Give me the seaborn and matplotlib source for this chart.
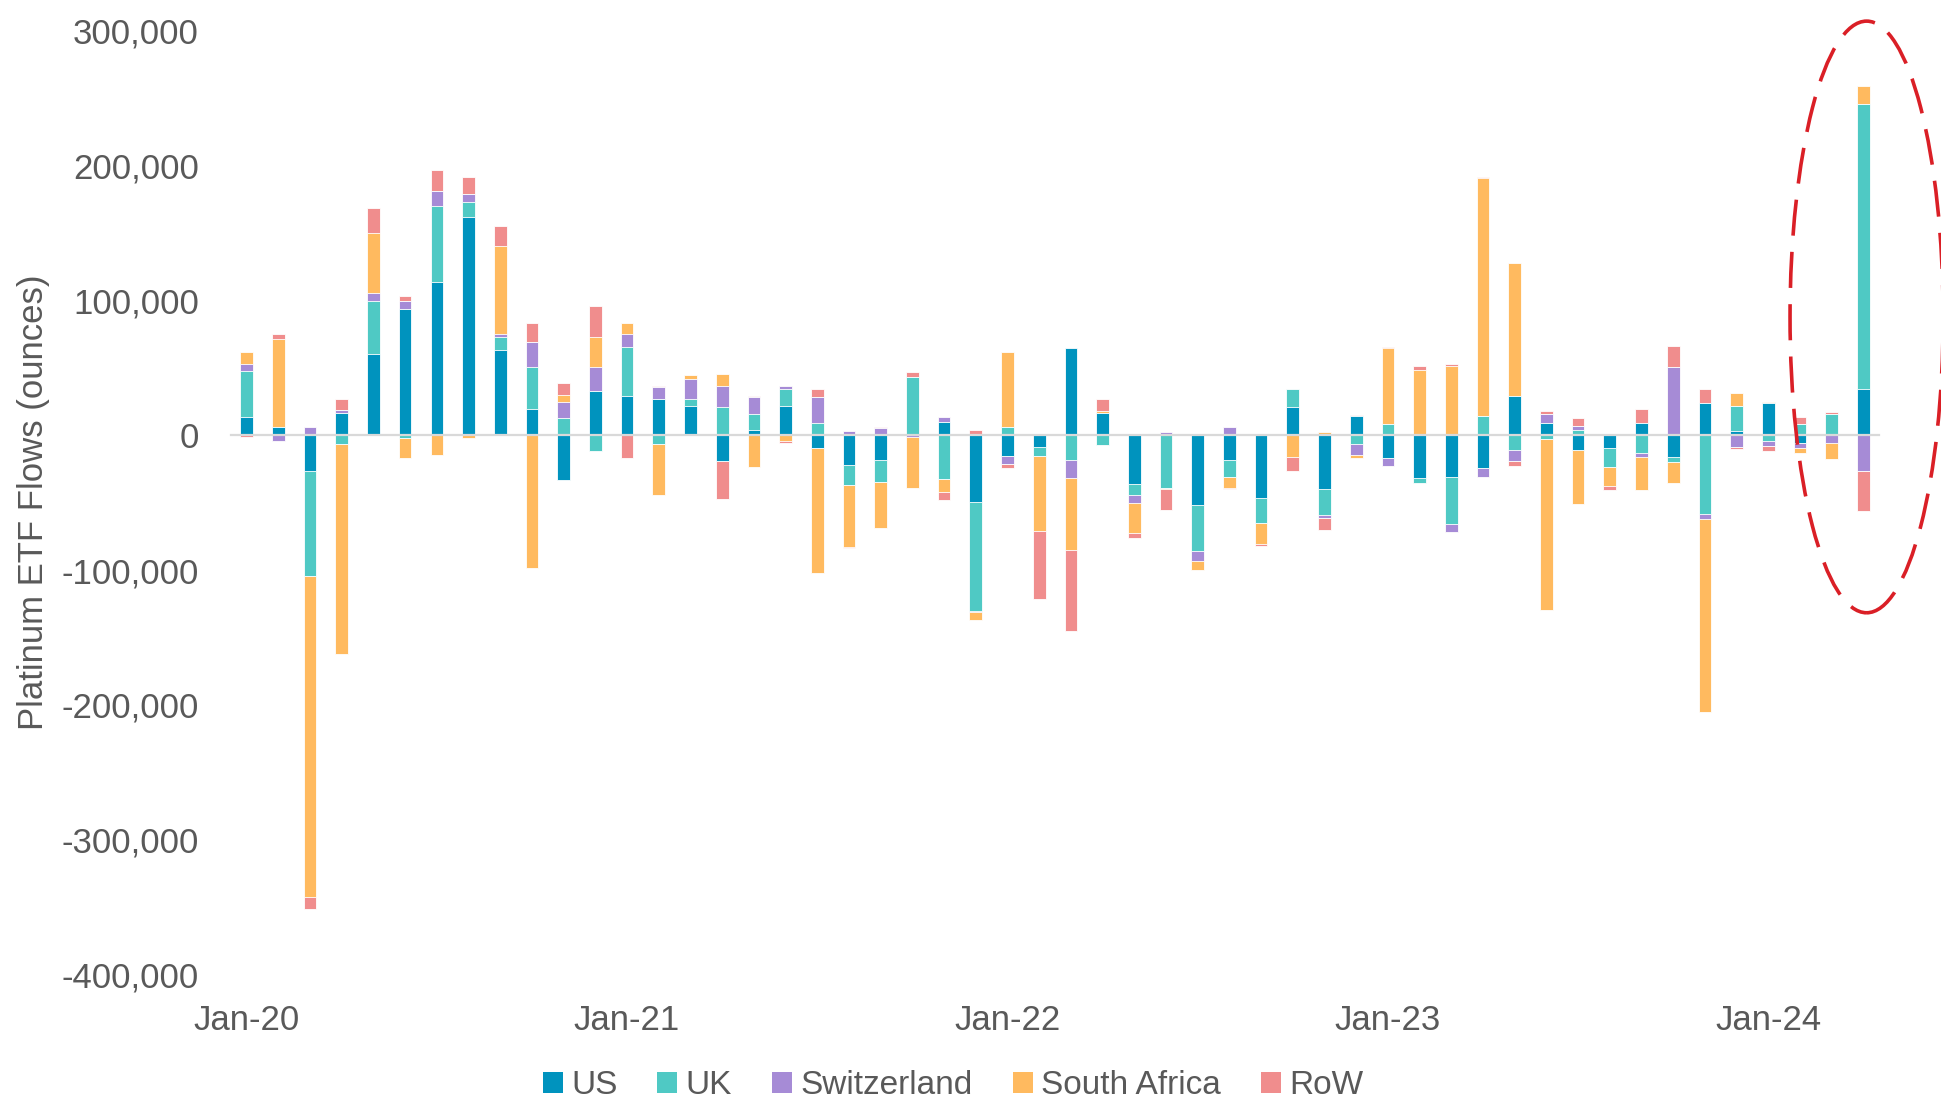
import numpy as np
import pandas as pd
import matplotlib.pyplot as plt
import seaborn as sns
from matplotlib.patches import Patch, Ellipse

sns.set_style("white")
plt.rcParams['font.family'] = ['Liberation Sans', 'DejaVu Sans']

# monthly platinum ETF flows, thousand ounces (Jan-20 .. Apr-24)
months = list(pd.date_range('2020-01-01', periods=52, freq='MS').strftime('%b-%y'))

us = [13.5, 6, -26.2, 16.7, 60.4, 93.8, 113.7, 161.6, 63.6, 19.6, -33.3, 33.1,
      28.9, 27, 21.7, -19, 4, 21.7, -9.6, -22.3, -18, 0, 10, -49.5,
      -15.1, -8.7, 64.7, 16.7, -35.9, 0, -51.4, -18, -46.3, 20.9, -40.1, 14.3,
      -17.1, -31.4, -30.7, -24.2, 28.9, 9.3, -10.6, -9.6, 9, -16.1, 24.1, 3.2,
      24.1, -5.4, 0, 34.4]
uk = [34, 0, -78.4, -6.5, 39.5, -1.8, 56.2, 11.4, 9.3, 31.3, 12.5, -11.4,
      36.6, -6.7, 5.3, 20.9, 11.7, 12.7, 9.3, -14.6, -16.6, 42.9, -32.6, -80.6,
      6.1, -6.4, -18.3, -7.4, -8.2, -39.1, -34.4, -12.6, -18.8, 13.2, -18.8, -6.7,
      8.2, -4, -35.1, 14.3, -10.6, -2.5, 4, -13.6, -12.9, -4, -58.6, 18.5,
      -4.5, 8.2, 15.6, 211.4]
switzerland = [5.6, -4, 6, 2, 5.3, 6.1, 11.4, 6.1, 2.1, 18, 12.2, 17.8,
               9.5, 8.5, 14.6, 15.4, 13, 1.9, 18.8, 2.9, 5.3, -1.5, 3.4, -1,
               -6.2, 0, -13.4, 0, -6.2, 2.6, -7.4, 6.1, 0, 0, -2.2, -8.2,
               -5.9, 0, -6.2, -6.9, -8.7, 6.4, 3.2, 0, -3.2, 50.9, -3.2, -8.9,
               -3.2, -4.2, -5.4, -26.5]
south_africa = [8.5, 65.7, -237.9, -156, 45, -15.3, -14.7, -2, 65.4, -98.5, 5.3, 22,
                8.2, -37.3, 2.9, 9.3, -23.3, -4.5, -92.5, -45.8, -34.4, -37.3, -9.4, -5.7,
                55.9, -56.1, -53.2, 1.6, -22.3, -1, -6.4, -8.4, -15.3, -16.1, 2.6, -2,
                56.4, 48.8, 51.7, 176.7, 99.1, -127.1, -40.6, -14.6, -24.5, -15.3, -143.7, 9.5,
                0.8, -3.7, -12.4, 13.5]
row = [-1, 3.2, -8.9, 8.2, 18.8, 3.2, 15.6, 12.5, 14.8, 14.3, 8.7, 22.8,
       -17.1, 1, 0, -28, 0.5, -1, 6.1, -1.2, 0.8, 3.7, -5.9, 3.7,
       -3, -50.2, -60.4, 8.7, -3.7, -15.3, -0.7, -0.7, -2, -10.1, -8.9, 1,
       1, 2.9, 1.3, 0.8, -3.7, 2.6, 5.3, -2.7, 10.6, 15.6, 10.1, -1,
       -4, 5.3, 1.9, -29.7]

names = ['US', 'UK', 'Switzerland', 'South Africa', 'RoW']
colors = ['#0093BE', '#4FC9C4', '#A68BD6', '#FFBA5F', '#F08D8D']
text_grey = '#595959'
line_grey = '#D9D9D9'

vals = np.array([us, uk, switzerland, south_africa, row]) * 1000
cum_pos = np.cumsum(np.clip(vals, 0, None), axis=0)
cum_neg = np.cumsum(np.clip(vals, None, 0), axis=0)

fig = plt.figure(figsize=(19.41, 10.98), dpi=100)
ax = fig.add_axes([0.1189, 0.1126, 0.8493, 0.8592])

# stacked look: draw running totals from the outermost series inwards
for cum in (cum_pos, cum_neg):
    for k in reversed(range(len(names))):
        sns.barplot(x=months, y=cum[k], color=colors[k], saturation=1, width=0.4,
                    errorbar=None, edgecolor='white', linewidth=0.6, ax=ax)

ax.set_xlim(-0.5, len(months) - 0.5)
ax.set_ylim(-400000, 300000)

ax.set_yticks(np.arange(-400000, 300001, 100000))
ax.yaxis.set_major_formatter(plt.FuncFormatter(lambda v, p: f'{v:,.0f}'))
ax.tick_params(axis='y', length=0, pad=23, labelsize=25, labelcolor=text_grey)
ax.set_ylabel('Platinum ETF Flows (ounces)', fontsize=25, color=text_grey)
ax.yaxis.set_label_coords(-0.1095, 0.5)

for s in ['top', 'right', 'left']:
    ax.spines[s].set_visible(False)
ax.spines['bottom'].set_position(('data', 0))
ax.spines['bottom'].set_color(line_grey)
ax.spines['bottom'].set_linewidth(1.6)

ax.set_xticks([])
ax.set_xticks([-0.5, 11.5, 23.5, 35.5, 47.5], minor=True)
ax.tick_params(axis='x', which='minor', direction='out', length=8, width=1.5,
               color=line_grey, labelbottom=False)
ax.set_xlabel('')

sec = ax.secondary_xaxis('bottom')
sec.set_xticks([0, 12, 24, 36, 48], labels=['Jan-20', 'Jan-21', 'Jan-22', 'Jan-23', 'Jan-24'])
sec.tick_params(length=0, pad=21, labelsize=25, labelcolor=text_grey)
sec.spines['bottom'].set_visible(False)

handles = [Patch(facecolor=c, edgecolor='none', label=n) for n, c in zip(names, colors)]
fig.legend(handles=handles, loc='center', bbox_to_anchor=(0.491, 0.011), ncol=5,
           frameon=False, fontsize=24, handlelength=0.6, handleheight=0.6,
           handletextpad=0.25, columnspacing=1.2, labelcolor=text_grey)

# highlight of the latest month
ax.add_patch(Ellipse((51.1, 87800), width=4.83, height=439000, fill=False,
                     edgecolor='#DA1F26', linewidth=2.6, linestyle=(0, (10, 4.5)),
                     clip_on=False, zorder=5))

fig.savefig('out.png', dpi=100)
